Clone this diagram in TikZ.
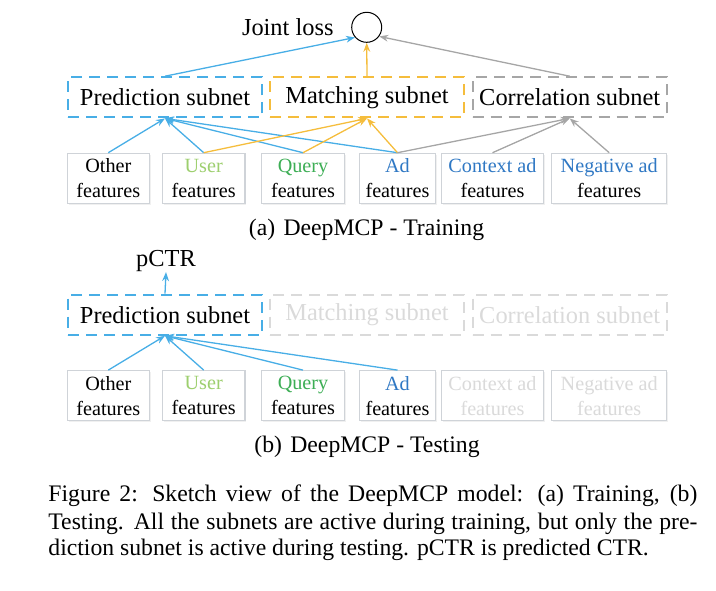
\documentclass[tikz,border=0pt]{standalone}
\usepackage{fontspec}
\setmainfont{Liberation Serif}
\usetikzlibrary{arrows.meta,positioning,shadows}

\definecolor{netblue}{HTML}{48AEE6}
\definecolor{netyellow}{HTML}{F5BD3C}
\definecolor{netgray}{HTML}{A6A6A6}
\definecolor{offgray}{HTML}{DADADA}
\definecolor{boxgray}{HTML}{CFD3D8}
\definecolor{usergreen}{HTML}{9DCF6E}
\definecolor{querygreen}{HTML}{3DAE55}
\definecolor{adblue}{HTML}{2F78C4}

\newcommand{\netfont}{\fontsize{12.2}{14}\selectfont}
\newcommand{\featfont}{\fontsize{10.1}{12.5}\selectfont}
\newcommand{\capfont}{\fontsize{11.85}{13.5}\selectfont}

\tikzset{
  >={Stealth[length=4.5pt,width=3.4pt]},
  subnet/.style={draw, dash pattern=on 5.5pt off 3.5pt, line width=1.1pt,
    minimum width=97pt, minimum height=20pt, inner sep=0pt, font=\netfont},
  featbox/.style={draw=boxgray, line width=0.6pt, fill=white, minimum height=25pt,
    inner sep=0pt, align=center, font=\featfont,
    drop shadow={opacity=0.12, shadow xshift=0.6pt, shadow yshift=-0.6pt}},
  link/.style={->, line width=0.65pt}
}

\begin{document}
\begin{tikzpicture}[x=0.5pt,y=-0.5pt]
\useasboundingbox (0,0) rectangle (716,590);

\node[circle, draw, line width=0.5pt, minimum size=15pt, inner sep=0pt] (loss) at (366.7,27.3) {};
\node[font=\netfont, left=5.3pt of loss] (losstext) {Joint loss};

\node[subnet, draw=netblue] (pred) at (165,97.3) {Prediction subnet};
\node[subnet, draw=netyellow] (match) at (367,97.3) {Matching subnet};
\node[subnet, draw=netgray] (corr) at (569.7,97.3) {Correlation subnet};

\node[featbox, minimum width=41pt] (other) at (108.3,178.3) {Other\\features};
\node[featbox, minimum width=41.3pt] (user) at (203.7,178.3) {\textcolor{usergreen}{User}\\features};
\node[featbox, minimum width=41.3pt] (query) at (303,178.3) {\textcolor{querygreen}{Query}\\features};
\node[featbox, minimum width=38.2pt] (ad) at (397.5,178.3) {\textcolor{adblue}{Ad}\\features};
\node[featbox, minimum width=50.8pt] (context) at (492.5,178.3) {\textcolor{adblue}{Context ad}\\features};
\node[featbox, minimum width=57.5pt] (negative) at (609.2,178.3) {\textcolor{adblue}{Negative ad}\\features};

\draw[link, netblue] (other.north) -- (pred.south);
\draw[link, netblue] (user.north) -- (pred.south);
\draw[link, netblue] (query.north) -- (pred.south);
\draw[link, netblue] (ad.north) -- (pred.south);
\draw[link, netyellow] (user.north) -- (match.south);
\draw[link, netyellow] (query.north) -- (match.south);
\draw[link, netyellow] (ad.north) -- (match.south);
\draw[link, netgray] (ad.north) -- (corr.south);
\draw[link, netgray] (context.north) -- (corr.south);
\draw[link, netgray] (negative.north) -- (corr.south);

\draw[link, netblue] (pred.north) -- (loss.-139);
\draw[link, netyellow] (match.north) -- (loss.south);
\draw[link, netgray] (corr.north) -- (loss.-36);

\node[font=\capfont] (capa) at (366.5,229.5) {(a)\hspace{0.1em} DeepMCP - Training};

\node[font=\netfont, inner sep=0pt] (pctr) at (166,261) {pCTR};

\node[subnet, draw=netblue] (pred2) at (165,314.7) {Prediction subnet};
\node[subnet, draw=offgray, text=offgray] (match2) at (367,314.7) {Matching subnet};
\node[subnet, draw=offgray, text=offgray] (corr2) at (569.7,314.7) {Correlation subnet};

\node[featbox, minimum width=41pt] (other2) at (108.3,395.7) {Other\\features};
\node[featbox, minimum width=41.3pt] (user2) at (203.7,395.7) {\textcolor{usergreen}{User}\\features};
\node[featbox, minimum width=41.3pt] (query2) at (303,395.7) {\textcolor{querygreen}{Query}\\features};
\node[featbox, minimum width=38.2pt] (ad2) at (397.5,395.7) {\textcolor{adblue}{Ad}\\features};
\node[featbox, minimum width=50.8pt, text=offgray] (context2) at (492.5,395.7) {Context ad\\features};
\node[featbox, minimum width=57.5pt, text=offgray] (negative2) at (609.2,395.7) {Negative ad\\features};

\draw[link, netblue] (other2.north) -- (pred2.south);
\draw[link, netblue] (user2.north) -- (pred2.south);
\draw[link, netblue] (query2.north) -- (pred2.south);
\draw[link, netblue] (ad2.north) -- (pred2.south);
\draw[link, netblue] (pred2.north) -- (pctr.south);

\node[font=\capfont] (capb) at (367,447) {(b)\hspace{0.1em} DeepMCP - Testing};

\node[font=\capfont, anchor=base west, inner sep=0pt] (capline1) at (48,501.7)
  {\makebox[324.5pt][s]{Figure 2: Sketch view of the DeepMCP model: (a) Training, (b)}};
\node[font=\capfont, anchor=base west, inner sep=0pt] (capline2) at (48,529)
  {\makebox[324.5pt][s]{Testing. All the subnets are active during training, but only the pre-}};
\node[font=\capfont, anchor=base west, inner sep=0pt] (capline3) at (48,555.7)
  {diction subnet is active during testing. pCTR is predicted CTR.};
\end{tikzpicture}
\end{document}
